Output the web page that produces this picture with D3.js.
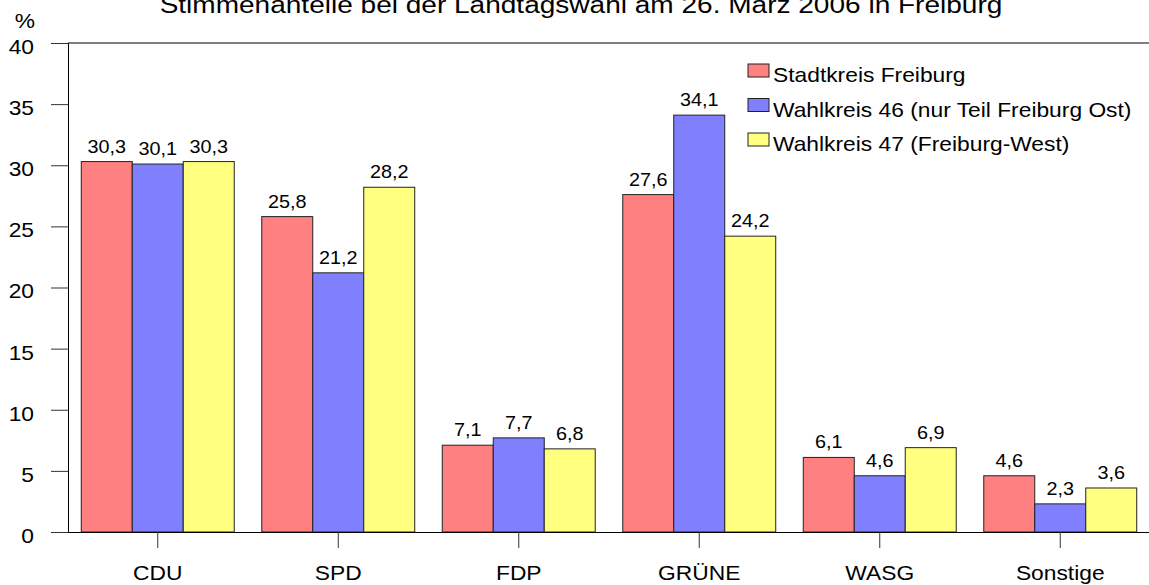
<!DOCTYPE html>
<html>
<head>
<meta charset="utf-8">
<script src="https://cdn.jsdelivr.net/npm/d3@7"></script>
<style>
  body { margin: 0; background: #fff; }
  svg { display: block; font-family: "Liberation Sans", Arial, sans-serif; }
</style>
</head>
<body>
<div id="root"></div>
<script>
// chart data
const categories = ['CDU', 'SPD', 'FDP', 'GRÜNE', 'WASG', 'Sonstige'];
const seriesNames = ['Stadtkreis Freiburg', 'Wahlkreis 46 (nur Teil Freiburg Ost)', 'Wahlkreis 47 (Freiburg-West)'];
const stadtkreis = [30.3, 25.8, 7.1, 27.6, 6.1, 4.6];
const wahlkreis46 = [30.1, 21.2, 7.7, 34.1, 4.6, 2.3];
const wahlkreis47 = [30.3, 28.2, 6.8, 24.2, 6.9, 3.6];
const yTicks = [0, 5, 10, 15, 20, 25, 30, 35, 40];
const colors = ['#ff8080', '#8080ff', '#ffff80'];
const title = 'Stimmenanteile bei der Landtagswahl am 26. März 2006 in Freiburg';

const width = 1149, height = 585;
const seriesValues = [stadtkreis, wahlkreis46, wahlkreis47];

// the original text is a bit wider than Arial, so stretch it horizontally
const S = 1.14;

const svg = d3.select('#root').append('svg')
  .attr('width', width)
  .attr('height', height);

// scales
const x0 = d3.scaleBand().domain(categories).range([67.5, 1150.5]).padding(0);
const x1 = d3.scaleBand().domain(d3.range(3)).range([0, x0.bandwidth()])
  .paddingInner(0).paddingOuter(0.27);
const y = d3.scaleLinear().domain([0, 40]).range([532, 43]);

// title
svg.append('text')
  .attr('transform', `translate(581,12.5) scale(${S},1)`)
  .attr('text-anchor', 'middle')
  .attr('font-size', 24.6)
  .text(title);

// unit label
svg.append('text')
  .attr('transform', `translate(25,28) scale(${S},1)`)
  .attr('text-anchor', 'middle')
  .attr('font-size', 20)
  .text('%');

// bars
const groups = svg.append('g').selectAll('g')
  .data(categories)
  .join('g')
  .attr('transform', d => `translate(${x0(d)},0)`);

groups.selectAll('rect')
  .data((d, i) => seriesValues.map((s, k) => ({ k: k, v: s[i] })))
  .join('rect')
  .attr('x', d => x1(d.k))
  .attr('y', d => y(d.v))
  .attr('width', x1.bandwidth())
  .attr('height', d => y(0) - y(d.v))
  .attr('fill', d => colors[d.k])
  .attr('stroke', '#222')
  .attr('stroke-width', 1);

groups.selectAll('text')
  .data((d, i) => seriesValues.map((s, k) => ({ k: k, v: s[i] })))
  .join('text')
  .attr('transform', d => `translate(${x1(d.k) + x1.bandwidth() / 2},${y(d.v) - 9}) scale(1.1,1)`)
  .attr('text-anchor', 'middle')
  .attr('font-size', 18)
  .text(d => d3.format('.1f')(d.v).replace('.', ','));

// y axis
const yAxis = svg.append('g')
  .attr('transform', 'translate(68,0)')
  .call(d3.axisLeft(y).tickValues(yTicks).tickSize(17).tickPadding(17));
yAxis.select('.domain').attr('stroke', '#000');
yAxis.selectAll('.tick line').attr('stroke', '#333');
yAxis.selectAll('.tick text')
  .attr('font-size', 20)
  .attr('font-family', null)
  .attr('fill', '#000')
  .attr('x', -34 / S)
  .attr('dy', '0.52em')
  .attr('transform', `scale(${S},1)`);

// x axis
const xAxis = svg.append('g')
  .attr('transform', 'translate(0,532)')
  .call(d3.axisBottom(x0).tickSize(16).tickPadding(18).tickSizeOuter(0));
xAxis.select('.domain').attr('stroke', '#000');
xAxis.selectAll('.tick line').attr('stroke', '#333');
xAxis.selectAll('.tick text')
  .attr('font-size', 20)
  .attr('font-family', null)
  .attr('fill', '#000')
  .attr('transform', `scale(${S},1)`);

// top border line of the plot
svg.append('line')
  .attr('x1', 68).attr('x2', width)
  .attr('y1', y(40)).attr('y2', y(40))
  .attr('stroke', '#000');

// legend
const legend = svg.append('g').selectAll('g')
  .data(seriesNames)
  .join('g')
  .attr('transform', (d, i) => `translate(748,${64 + i * 34.5})`);

legend.append('rect')
  .attr('width', 21)
  .attr('height', 13)
  .attr('fill', (d, i) => colors[i])
  .attr('stroke', '#222');

legend.append('text')
  .attr('transform', `translate(25,18) scale(${S},1)`)
  .attr('font-size', 20)
  .text(d => d);
</script>
</body>
</html>
